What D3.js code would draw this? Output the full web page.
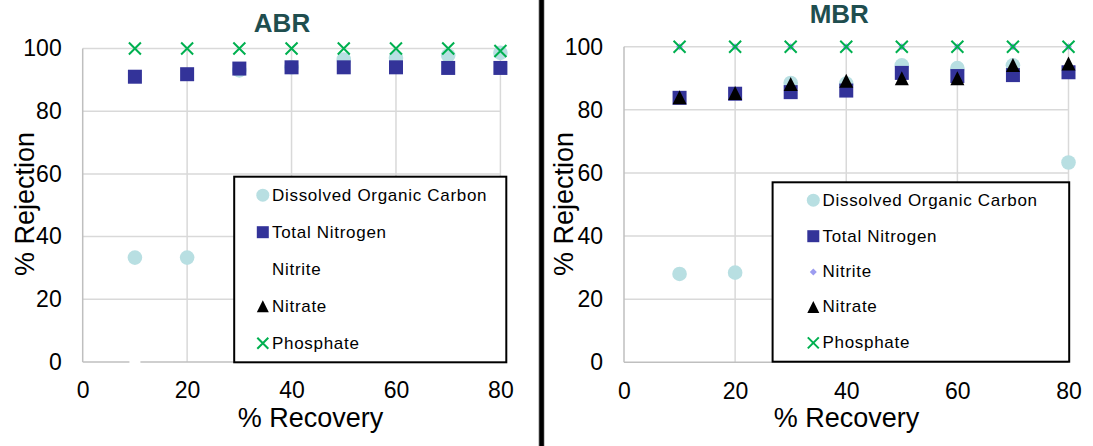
<!DOCTYPE html>
<html><head><meta charset="utf-8">
<script src="https://cdn.jsdelivr.net/npm/d3@7"></script>
<style>
html,body{margin:0;padding:0;background:#fff;}
svg{display:block;font-family:"Liberation Sans",Arial,sans-serif;}
</style></head>
<body><svg id="c" width="1093" height="446"></svg>
<script>
// ---------- data ----------
const recovery = [10, 20, 30, 40, 50, 60, 70, 80];
const xTicks = [0, 20, 40, 60, 80];
const yTicks = [0, 20, 40, 60, 80, 100];
const seriesNames = ["Dissolved Organic Carbon", "Total Nitrogen", "Nitrite", "Nitrate", "Phosphate"];

const abrDOC       = [33.3, 33.3, 93.0, 94.0, 96.5, 97.0, 97.8, 98.6];
const abrTN        = [91.0, 91.8, 93.6, 94.0, 94.0, 94.0, 93.8, 93.8];
const abrNitrite   = [0, null, null, null, null, null, null, null];
const abrNitrate   = [null, null, null, null, null, null, null, null];
const abrPhosphate = [100, 100, 100, 100, 100, 100, 100, 99.2];

const mbrDOC       = [28.0, 28.4, 88.5, 88.3, 94.1, 93.2, 94.1, 63.3];
const mbrTN        = [83.8, 85.1, 85.6, 86.1, 91.7, 90.7, 91.0, 91.9];
const mbrNitrite   = [100, 100, 100, 100, 100, 100, 100, 100];
const mbrNitrate   = [84.0, 85.3, 88.2, 89.2, 90.0, 90.0, 94.2, 94.7];
const mbrPhosphate = [100, 100, 100, 100, 100, 100, 100, 100];

// ---------- styles ----------
const colDOC = "#b8dfe2", colTN = "#333399", colNitriteMBR = "#9c9cf0", colNitriteABR = "#ffffff",
      colNitrate = "#000000", colPhos = "#00b050";

const svg = d3.select("#c");

function markerPath(type, s) {
  const h = s / 2;
  if (type === "circle") return d3.symbol(d3.symbolCircle, Math.PI * h * h)();
  if (type === "square") return `M${-h},${-h}H${h}V${h}H${-h}Z`;
  if (type === "triangle") return `M0,${-h}L${h},${h}L${-h},${h}Z`;
  if (type === "diamond") return `M0,${-h}L${h},0L0,${h}L${-h},0Z`;
  if (type === "x") return `M${-h},${-h}L${h},${h}M${h},${-h}L${-h},${h}`;
}

function drawPanel(cfg) {
  const g = svg.append("g");
  const x = d3.scaleLinear().domain([0, 80]).range([cfg.x0, cfg.x1]);
  const y = d3.scaleLinear().domain([0, 100]).range([cfg.y0, cfg.y1]);

  // gridlines
  g.append("g").selectAll("line.h").data(yTicks.filter(d => d > 0)).join("line")
    .attr("x1", x(0)).attr("x2", x(80)).attr("y1", d => y(d)).attr("y2", d => y(d))
    .attr("stroke", "#d9d9d9").attr("stroke-width", 1.5);
  g.append("g").selectAll("line.v").data(xTicks.filter(d => d > 0)).join("line")
    .attr("x1", d => x(d)).attr("x2", d => x(d)).attr("y1", y(0)).attr("y2", y(100))
    .attr("stroke", "#d9d9d9").attr("stroke-width", 1.5);
  // axis lines
  g.append("line").attr("x1", x(0)).attr("x2", x(80)).attr("y1", y(0)).attr("y2", y(0))
    .attr("stroke", "#bfbfbf").attr("stroke-width", 1.5);
  g.append("line").attr("x1", x(0)).attr("x2", x(0)).attr("y1", y(0)).attr("y2", y(100))
    .attr("stroke", "#bfbfbf").attr("stroke-width", 1.5);

  // axes (labels only)
  const ax = g.append("g").attr("transform", `translate(0,${y(0)})`)
    .call(d3.axisBottom(x).tickValues(xTicks).tickSize(0).tickPadding(20));
  const ay = g.append("g").attr("transform", `translate(${x(0)},0)`)
    .call(d3.axisLeft(y).tickValues(yTicks).tickSize(0).tickPadding(21));
  [ax, ay].forEach(a => {
    a.select(".domain").remove();
    a.selectAll("text").attr("font-size", 23).attr("fill", "#000")
      .attr("font-family", "Liberation Sans, Arial, sans-serif");
  });

  // series
  const series = [
    {vals: cfg.doc, type: "circle", size: 14.6, fill: colDOC},
    {vals: cfg.tn, type: "square", size: 14, fill: colTN},
    {vals: cfg.nitrite, type: "diamond", size: cfg.nitriteSize, fill: cfg.nitriteColor},
    {vals: cfg.nitrate, type: "triangle", size: 14, fill: colNitrate},
    {vals: cfg.phos, type: "x", size: 12, stroke: colPhos}
  ];
  series.forEach(s => {
    const pts = recovery.map((r, i) => ({r, v: s.vals[i]})).filter(d => d.v !== null);
    g.append("g").selectAll("path").data(pts).join("path")
      .attr("transform", d => `translate(${x(d.r)},${y(d.v)})`)
      .attr("d", markerPath(s.type, s.size))
      .attr("fill", s.stroke ? "none" : s.fill)
      .attr("stroke", s.stroke || "none")
      .attr("stroke-width", s.stroke ? 2 : 0);
  });

  // legend
  const lg = g.append("g");
  lg.append("rect").attr("x", cfg.lx0).attr("y", cfg.ly0)
    .attr("width", cfg.lx1 - cfg.lx0).attr("height", cfg.ly1 - cfg.ly0)
    .attr("fill", "#fff").attr("stroke", "#000").attr("stroke-width", 2);
  const legTypes = [
    {type: "circle", size: 13, fill: colDOC},
    {type: "square", size: 12, fill: colTN},
    {type: "diamond", size: cfg.nitriteLegSize, fill: cfg.nitriteColor},
    {type: "triangle", size: 12, fill: colNitrate},
    {type: "x", size: 11, stroke: colPhos}
  ];
  seriesNames.forEach((name, i) => {
    const by = cfg.legBase[i];
    const t = legTypes[i];
    lg.append("path").attr("transform", `translate(${cfg.lmx},${by - 5.5})`)
      .attr("d", markerPath(t.type, t.size))
      .attr("fill", t.stroke ? "none" : t.fill)
      .attr("stroke", t.stroke || "none").attr("stroke-width", t.stroke ? 2 : 0);
    lg.append("text").attr("x", cfg.ltx).attr("y", by).text(name)
      .attr("font-size", 17).attr("letter-spacing", "0.7px").attr("fill", "#000");
  });

  // titles
  g.append("text").attr("x", cfg.titleX).attr("y", cfg.titleY).attr("text-anchor", "middle")
    .attr("font-size", 26).attr("font-weight", "bold").attr("fill", "#1f4e4f").text(cfg.title);
  g.append("text").attr("x", cfg.xTitleX).attr("y", 426.7).attr("text-anchor", "middle")
    .attr("font-size", 27).attr("fill", "#000").text("% Recovery");
  g.append("text").attr("transform", `translate(${cfg.yTitleX},204) rotate(-90)`)
    .attr("text-anchor", "middle").attr("font-size", 27).attr("fill", "#000").text("% Rejection");
}

drawPanel({
  x0: 82.7, x1: 500.4, y0: 362, y1: 48.5,
  doc: abrDOC, tn: abrTN, nitrite: abrNitrite, nitrate: abrNitrate, phos: abrPhosphate,
  nitriteColor: colNitriteABR, nitriteSize: 12, nitriteLegSize: 6,
  lx0: 234.2, lx1: 506.3, ly0: 176.7, ly1: 362.3,
  lmx: 262.8, ltx: 272, legBase: [200.7, 237.7, 274.7, 311.7, 348.7],
  title: "ABR", titleX: 282, titleY: 31.7, xTitleX: 310.5, yTitleX: 34
});
drawPanel({
  x0: 624, x1: 1068.5, y0: 362.3, y1: 46.7,
  doc: mbrDOC, tn: mbrTN, nitrite: mbrNitrite, nitrate: mbrNitrate, phos: mbrPhosphate,
  nitriteColor: colNitriteMBR, nitriteSize: 7, nitriteLegSize: 7,
  lx0: 772.6, lx1: 1069.2, ly0: 182.3, ly1: 361.7,
  lmx: 813.3, ltx: 822.5, legBase: [205.7, 241.7, 277.4, 312.4, 348.4],
  title: "MBR", titleX: 839.3, titleY: 22.7, xTitleX: 846.5, yTitleX: 573
});

// divider
svg.append("rect").attr("x", 538.5).attr("y", 0).attr("width", 6).attr("height", 446).attr("fill", "#9a9a9a");
svg.append("rect").attr("x", 539.3).attr("y", 0).attr("width", 4.5).attr("height", 446).attr("fill", "#000");
</script>
</body></html>
